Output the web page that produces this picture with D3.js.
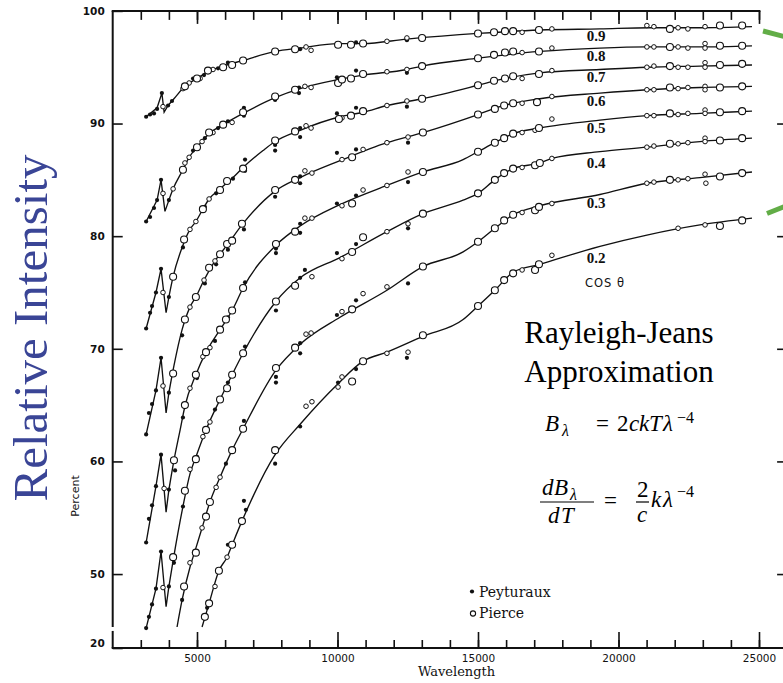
<!DOCTYPE html>
<html>
<head>
<meta charset="utf-8">
<script src="https://cdn.jsdelivr.net/npm/d3@7"></script>
<style>
  html, body { margin: 0; padding: 0; background: #fff; }
  svg { display: block; }
</style>
</head>
<body>
<svg id="chart" width="783" height="683"></svg>
<script>
// ---------------- data ----------------
const cosTheta = ["0.9", "0.8", "0.7", "0.6", "0.5", "0.4", "0.3", "0.2"];
const wavelengthTicks = [3000, 4000, 5000, 6000, 7000, 8000, 9000, 10000, 11000, 12000, 13000,
  14000, 15000, 16000, 17000, 18000, 19000, 20000, 21000, 22000, 23000, 24000, 25000];
const wavelengthLabels = [5000, 10000, 15000, 20000, 25000];
const percentTicks = [100, 90, 80, 70, 60, 50, 20];
const rightTicks = [90, 80, 70, 60, 50];

// smoothed curves [wavelength (Å), percent]
const fit09 = [[3190,90.6],[3580,91.4],[3750,92.7],[3830,91.0],[3970,91.6],[4180,92.2],[4570,93.3],[5000,94.0],[5390,94.6],[5930,95.1],[6640,95.6],[7780,96.4],[8670,96.7],[10020,97.1],[10910,97.1],[12470,97.5],[15000,98.0],[17200,98.3],[19340,98.4],[21120,98.5],[22900,98.5],[24750,98.6]];
const fit08 = [[3190,81.3],[3580,83.2],[3720,85.0],[3860,82.2],[4000,83.2],[4150,84.2],[4500,85.9],[4720,87.0],[5000,87.9],[5430,89.1],[5930,89.9],[6640,90.9],[7780,92.3],[8670,93.1],[10020,93.9],[10910,94.3],[12470,94.8],[13010,95.1],[15000,95.8],[17200,96.4],[19340,96.7],[21010,96.8],[22900,96.8],[24750,96.9]];
const fit07 = [[3190,71.8],[3540,75.0],[3720,77.1],[3900,73.2],[4000,74.6],[4150,76.4],[4500,79.2],[4750,80.6],[4960,81.3],[5210,82.4],[5430,83.3],[5820,84.2],[6280,85.2],[6640,86.1],[7350,87.6],[7780,88.4],[8670,89.4],[10090,90.6],[10910,91.0],[11760,91.6],[13010,92.2],[15000,93.4],[15780,93.9],[17200,94.5],[19340,94.8],[21010,95.0],[22900,95.1],[24750,95.2]];
const fit06 = [[3190,62.4],[3540,66.3],[3720,69.2],[3900,64.3],[4000,66.1],[4180,68.5],[4470,71.7],[4750,73.7],[4960,74.6],[5250,76.1],[5640,77.8],[6070,79.2],[6600,81.0],[7780,84.0],[8670,85.2],[10090,86.7],[11760,88.3],[13040,89.2],[15000,90.8],[15780,91.5],[17200,92.2],[19340,92.7],[21010,93.0],[22900,93.2],[24750,93.3]];
const fit05 = [[3190,52.8],[3540,57.8],[3720,60.6],[3900,55.5],[4000,57.5],[4180,60.1],[4400,62.8],[4570,64.9],[4960,67.7],[5320,69.7],[5820,71.7],[6250,73.4],[6640,75.4],[7810,79.2],[8670,80.9],[10090,82.8],[11760,84.5],[13040,85.7],[14470,86.8],[15000,87.5],[15600,88.3],[16250,89.1],[17200,89.6],[19340,90.3],[21010,90.7],[22900,90.9],[24750,91.1]];
const fit04 = [[3190,45.2],[3540,48.7],[3720,52.0],[3900,47.1],[4000,48.9],[4150,51.2],[4500,56.0],[4750,58.9],[4960,60.4],[5320,62.8],[5820,65.5],[6250,67.7],[6640,69.6],[7810,74.2],[8670,76.3],[10090,78.1],[11760,80.4],[13040,82.0],[14470,83.2],[15000,83.8],[15600,85.0],[16250,86.0],[17200,86.5],[17630,86.9],[19340,87.5],[21010,87.9],[22900,88.4],[24750,88.7]];
const fit03 = [[4290,45.3],[4470,47.7],[4750,50.6],[4960,52.3],[5180,54.1],[5460,56.4],[5820,58.6],[6250,61.0],[6640,62.9],[7810,68.1],[8670,70.4],[10090,72.8],[11760,75.2],[13040,77.3],[14470,78.6],[15000,79.5],[15600,80.7],[16250,81.9],[17200,82.7],[19340,83.7],[21010,84.7],[22900,85.2],[24750,85.7]];
const fit02 = [[5180,45.3],[5430,47.4],[5780,50.3],[6070,51.5],[6250,52.6],[6600,54.7],[7780,60.6],[8670,63.3],[10020,66.9],[10910,68.9],[11760,69.7],[13040,71.1],[14470,72.6],[15000,73.8],[15600,75.2],[16250,76.8],[17200,77.5],[19340,79.1],[21010,80.1],[22900,81.0],[24750,81.6]];

// Peyturaux observations
const pey09 = [[3190,90.6],[3330,90.8],[3470,90.9],[3580,91.3],[3750,92.7],[3970,91.6],[4110,92.0],[4860,94.0],[5250,94.3],[5750,94.9],[6100,95.4],[6670,95.7],[7780,96.4],[8670,96.6],[9980,97.1],[10660,97.2],[12470,97.4]];
const pey08 = [[3190,81.3],[3330,81.7],[3470,82.5],[3580,83.2],[3720,85.0],[4000,83.2],[4860,87.6],[5280,88.7],[5750,89.6],[6100,90.2],[6670,91.4],[6670,90.7],[7780,92.1],[8630,93.2],[8630,92.7],[9980,94.1],[10660,94.7],[12470,94.5]];
const pey07 = [[3190,71.8],[3330,73.2],[3400,73.8],[3540,75.0],[3720,77.1],[4000,74.6],[4500,79.0],[5280,82.6],[5680,83.8],[6280,85.1],[6710,86.8],[6710,85.8],[7780,88.1],[7780,87.6],[8670,89.6],[8670,88.8],[9980,90.9],[10660,91.4],[12470,91.5]];
const pey06 = [[3190,62.4],[3290,64.3],[3400,65.1],[3540,66.3],[3720,69.2],[4000,66.1],[4470,71.2],[5280,75.8],[5680,77.5],[6100,78.8],[6670,80.6],[7780,83.5],[8670,85.3],[8670,84.7],[9980,87.4],[10660,87.7],[12510,88.3]];
const pey05 = [[3190,52.8],[3290,54.9],[3400,56.1],[3540,57.8],[3720,60.6],[4000,57.5],[4220,59.2],[4500,63.9],[5000,67.4],[5640,70.7],[6100,72.8],[6710,75.9],[7810,78.9],[7810,78.5],[8670,81.1],[8670,80.3],[9980,82.9],[10660,83.6],[12510,84.8]];
const pey04 = [[3190,45.2],[3290,46.2],[3400,47.3],[3540,48.7],[3720,52.0],[4000,48.9],[4180,51.0],[4500,56.0],[5000,60.4],[5640,64.6],[6100,67.0],[6710,70.2],[7810,73.4],[8670,76.3],[8840,77.0],[9980,78.5],[10660,79.3],[12510,80.7]];
const pey03 = [[4470,47.7],[4890,51.9],[6030,59.8],[6670,63.6],[7810,67.5],[7810,67.0],[8670,69.6],[8670,70.5],[9980,73.0],[10660,74.3],[12510,75.8]];
const pey02 = [[5360,47.0],[6100,52.6],[6670,56.5],[6740,55.7],[7780,59.8],[8670,63.1],[10020,67.0],[10660,68.2],[12470,69.2]];

// Pierce observations, first set
const pie09 = [[3790,91.5],[4500,93.1],[4720,93.6],[5110,94.0],[5570,94.8],[8880,96.8],[9060,96.5],[11760,97.3],[12470,97.6],[16570,98.1],[17630,98.4],[21010,98.7],[21260,98.6],[22120,98.5],[22470,98.4],[23080,98.6]];
const pie08 = [[3790,83.8],[4150,84.2],[4570,86.5],[4720,87.0],[5180,88.4],[5570,89.2],[6250,90.1],[8840,93.3],[9060,93.2],[11760,94.6],[12470,94.8],[16570,96.3],[17630,96.7],[21010,96.8],[21260,96.8],[22120,96.8],[22470,96.7],[23080,97.1],[23080,96.7]];
const pie07 = [[3790,75.0],[4750,80.6],[4960,81.3],[5430,83.3],[8880,89.8],[9060,89.6],[10160,90.5],[11760,91.6],[12470,92.0],[16570,94.0],[17630,94.7],[21010,95.0],[21260,95.1],[22120,95.0],[22470,95.0],[23080,95.4],[23080,95.0]];
const pie06 = [[3790,66.7],[4750,73.7],[5250,76.1],[5640,77.8],[8840,85.8],[9090,85.6],[10160,86.8],[10910,87.7],[11760,88.3],[12510,88.8],[16570,91.8],[17630,92.4],[21010,93.0],[21260,93.0],[22120,93.1],[22470,93.2],[23080,93.3],[23080,93.0]];
const pie05 = [[3830,57.6],[4750,66.5],[5210,69.3],[5460,70.1],[8840,81.6],[9090,81.6],[10160,82.7],[10910,84.1],[11760,84.5],[12510,85.7],[16570,89.2],[17030,89.4],[17630,90.4],[21010,90.7],[21260,90.7],[22120,90.8],[22470,90.9],[23080,91.2],[23080,90.9]];
const pie04 = [[3790,48.8],[4750,59.3],[5210,62.2],[5460,63.5],[9090,76.4],[10160,78.0],[11760,80.4],[12510,81.1],[16570,86.1],[17630,86.9],[21010,87.9],[21260,88.0],[22120,88.2],[22470,88.3],[23080,88.7],[23080,88.4]];
const pie03 = [[4750,51.0],[5180,54.1],[5680,57.7],[5820,58.6],[8880,71.3],[9060,71.4],[10160,73.3],[10910,74.9],[11760,75.5],[16570,82.1],[17630,82.9],[21010,84.7],[21260,84.8],[22120,85.0],[22470,85.1],[23080,85.5],[23110,84.7]];
const pie02 = [[5640,48.9],[6070,51.5],[8880,64.9],[9090,65.3],[10020,66.6],[10160,67.5],[11760,69.6],[12510,69.7],[16570,77.0],[17630,78.3],[22120,80.7],[23080,81.0]];

// Pierce observations, second set
const pieL09 = [[4570,93.3],[5000,94.0],[5390,94.7],[5930,95.0],[6250,95.2],[6640,95.6],[7780,96.4],[8490,96.6],[10020,97.0],[10480,97.0],[10910,97.1],[13010,97.6],[15000,98.0],[15570,98.1],[15960,98.2],[16250,98.2],[17170,98.3],[21830,98.4],[23610,98.7],[24400,98.7]];
const pieL08 = [[4500,85.9],[5000,87.9],[5430,89.2],[5930,89.9],[6640,91.0],[7780,92.4],[8490,93.0],[10020,93.6],[10160,93.9],[10480,94.0],[10910,94.4],[13010,95.1],[15000,95.8],[15570,96.1],[15960,96.3],[16250,96.4],[17170,96.4],[21830,96.8],[23610,96.9],[24400,96.9]];
const pieL07 = [[4150,76.4],[4540,79.7],[5210,82.4],[5820,84.1],[6070,84.9],[6640,86.0],[7780,88.5],[8490,89.3],[10050,90.4],[10480,90.7],[10910,91.1],[13010,92.2],[15000,93.4],[15570,93.8],[15960,94.0],[16250,94.2],[17170,94.4],[21830,95.1],[23610,95.2],[24400,95.3]];
const pieL06 = [[4150,67.8],[4570,72.6],[4960,74.6],[5430,77.2],[5820,78.4],[6070,79.3],[6250,79.6],[6600,81.1],[7780,84.1],[8490,85.0],[10520,87.0],[13040,89.2],[15000,90.8],[15600,91.3],[15930,91.6],[16250,91.8],[17100,91.9],[21830,93.2],[23610,93.2],[24400,93.3]];
const pieL05 = [[4180,60.1],[4570,65.0],[4960,67.7],[5320,69.7],[5820,71.7],[6030,72.6],[6250,73.4],[6640,75.4],[7810,79.3],[8490,80.4],[10520,82.9],[13040,85.7],[15000,87.5],[15600,88.3],[15930,88.7],[16250,89.1],[17170,89.6],[21830,90.9],[23610,91.0],[24400,91.1]];
const pieL04 = [[4150,51.5],[4570,57.4],[4960,60.2],[5320,62.8],[5820,65.5],[6070,66.5],[6250,67.7],[6640,69.6],[7810,74.2],[8490,75.6],[10520,78.6],[10910,79.9],[13040,82.0],[15000,83.8],[15600,85.0],[15930,85.6],[16250,86.0],[17030,86.3],[17200,86.5],[21830,88.2],[23610,88.5],[24400,88.7]];
const pieL03 = [[4540,48.9],[4960,51.9],[5320,55.1],[5460,56.4],[6250,61.0],[6640,62.9],[7810,68.3],[8490,70.1],[10520,73.5],[13040,77.3],[15000,79.5],[15600,80.7],[15930,81.4],[16250,81.9],[17030,82.3],[17170,82.6],[21830,85.0],[23610,85.3],[24400,85.6]];
const pieL02 = [[5280,46.2],[5430,47.4],[5780,50.3],[6250,52.6],[6600,54.7],[7780,61.0],[10520,67.1],[10910,68.9],[13040,71.2],[15000,73.8],[15600,75.2],[15930,76.1],[16250,76.7],[17030,77.0],[17170,77.5],[23610,80.9],[24400,81.4]];

const fits = [fit09, fit08, fit07, fit06, fit05, fit04, fit03, fit02];
const peys = [pey09, pey08, pey07, pey06, pey05, pey04, pey03, pey02];
const pies = [pie09, pie08, pie07, pie06, pie05, pie04, pie03, pie02];
const pieLs = [pieL09, pieL08, pieL07, pieL06, pieL05, pieL04, pieL03, pieL02];

// ---------------- drawing ----------------
const W = 783, H = 683;
const ink = "#111";
const svg = d3.select("#chart");
svg.append("rect").attr("width", W).attr("height", H).attr("fill", "#fff");

const x = d3.scaleLinear().domain([2000, 26000]).range([112.7, 787.1]);
// broken percent axis: 20 sits at the base line, the drawn range starts near 45
const y = d3.scaleLinear().domain([20, 44.9, 100]).range([648, 631.5, 10.9]);

// frame
const frame = svg.append("g").attr("stroke", ink).attr("stroke-width", 2).attr("fill", "none");
frame.append("line").attr("x1", x(2000) - 1).attr("x2", x(25050)).attr("y1", y(100)).attr("y2", y(100));
frame.append("line").attr("x1", x(2000) - 1).attr("x2", W).attr("y1", y(20)).attr("y2", y(20));
frame.append("line").attr("x1", x(2000)).attr("x2", x(2000)).attr("y1", y(100)).attr("y2", y(45.3));
frame.append("line").attr("x1", x(2000)).attr("x2", x(2000)).attr("y1", y(44.95)).attr("y2", y(20));

function tidy(g) {
  g.select(".domain").remove();
  g.selectAll(".tick line").attr("stroke", ink).attr("stroke-width", 1.6);
}

// top ticks
svg.append("g").attr("transform", `translate(0,${y(100)})`)
  .call(d3.axisTop(x).tickValues(wavelengthTicks).tickSizeInner(-9).tickSizeOuter(0).tickFormat(""))
  .call(tidy);
svg.append("g").attr("transform", `translate(0,${y(100)})`)
  .call(d3.axisTop(x).tickValues(wavelengthLabels).tickSizeInner(-13).tickSizeOuter(0).tickFormat(""))
  .call(tidy);

// bottom ticks and labels
svg.append("g").attr("transform", `translate(0,${y(20)})`)
  .call(d3.axisBottom(x).tickValues(wavelengthTicks).tickSizeInner(-8).tickSizeOuter(0).tickFormat(""))
  .call(tidy);
svg.append("g").attr("transform", `translate(0,${y(20)})`)
  .call(d3.axisBottom(x).tickValues(wavelengthLabels).tickSizeInner(-16).tickSizeOuter(0)
    .tickPadding(6.5).tickFormat(d3.format("d")))
  .call(tidy)
  .attr("font-family", "DejaVu Sans").attr("font-size", 10.5)
  .selectAll("text").attr("fill", ink);

// left ticks and labels
const yAxis = svg.append("g").attr("transform", `translate(${x(2000)},0)`)
  .call(d3.axisLeft(y).tickValues(percentTicks).tickSizeInner(-10).tickSizeOuter(0).tickPadding(8))
  .call(tidy)
  .attr("font-family", "DejaVu Sans").attr("font-size", 10.5).attr("font-weight", "bold");
yAxis.selectAll("text").attr("fill", ink);
yAxis.selectAll(".tick").filter(d => d === 20).select("text").attr("dy", "-0.1em");

// right-hand ticks
svg.append("g").attr("transform", `translate(${x(26000)},0)`)
  .call(d3.axisRight(y).tickValues(rightTicks).tickSizeInner(-10).tickSizeOuter(0).tickFormat(""))
  .call(tidy);

// curves: the short-wave zig-zag is drawn with straight strokes, the rest smoothed
const smooth = d3.line().x(d => x(d[0])).y(d => y(d[1])).curve(d3.curveMonotoneX);
const straight = d3.line().x(d => x(d[0])).y(d => y(d[1]));
function curvePath(fit) {
  const dip = fit.findIndex((d, i) => i > 0 && d[1] < fit[i - 1][1]);
  if (dip < 0) return smooth(fit);
  return straight(fit.slice(0, dip + 2)) + smooth(fit.slice(dip + 1)).replace(/^M/, "L");
}

const series = cosTheta.map((c, i) => ({ c, fit: fits[i], pey: peys[i], pie: pies[i], pieL: pieLs[i] }));

const plot = svg.append("g");
plot.selectAll("path.curve").data(series).join("path")
  .attr("class", "curve")
  .attr("d", d => curvePath(d.fit))
  .attr("fill", "none").attr("stroke", ink).attr("stroke-width", 1.35)
  .attr("stroke-linejoin", "miter");

const groups = plot.selectAll("g.obs").data(series).join("g").attr("class", "obs");
groups.selectAll("circle.pey").data(d => d.pey).join("circle")
  .attr("class", "pey")
  .attr("cx", d => x(d[0])).attr("cy", d => y(d[1])).attr("r", 2.1)
  .attr("fill", ink);
groups.selectAll("circle.pie").data(d => d.pie).join("circle")
  .attr("class", "pie")
  .attr("cx", d => x(d[0])).attr("cy", d => y(d[1])).attr("r", 2.3)
  .attr("fill", "#fff").attr("stroke", ink).attr("stroke-width", 1);
groups.selectAll("circle.pieL").data(d => d.pieL).join("circle")
  .attr("class", "pieL")
  .attr("cx", d => x(d[0])).attr("cy", d => y(d[1])).attr("r", 3.5)
  .attr("fill", "#fff").attr("stroke", ink).attr("stroke-width", 1.1);

// cos θ labels under each curve
function valueAt(fit, lam) {
  const i = d3.bisector(d => d[0]).left(fit, lam);
  if (i <= 0) return fit[0][1];
  if (i >= fit.length) return fit[fit.length - 1][1];
  const a = fit[i - 1], b = fit[i];
  return a[1] + (b[1] - a[1]) * (lam - a[0]) / (b[0] - a[0]);
}
const labelAt = 19200;
plot.selectAll("text.cos").data(series).join("text")
  .attr("class", "cos")
  .attr("x", x(labelAt))
  .attr("y", d => y(valueAt(d.fit, labelAt)) + (d.c === "0.4" || d.c === "0.2" ? 16 : 12.5))
  .attr("text-anchor", "middle")
  .attr("font-family", "Liberation Serif").attr("font-weight", "bold").attr("font-size", 15)
  .attr("fill", ink)
  .text(d => d.c);

svg.append("text").attr("x", 585).attr("y", 287)
  .attr("font-family", "DejaVu Sans").attr("font-size", 11.5).attr("letter-spacing", 1)
  .attr("fill", ink).text("COS θ");

// axis titles
svg.append("text").attr("transform", "translate(79,496) rotate(-90)")
  .attr("text-anchor", "middle").attr("font-family", "DejaVu Sans").attr("font-size", 11)
  .attr("fill", ink).text("Percent");
svg.append("text").attr("x", 418).attr("y", 676)
  .attr("font-family", "DejaVu Serif").attr("font-size", 13).attr("fill", ink).text("Wavelength");
svg.append("text").attr("transform", "translate(47,328) rotate(-90)")
  .attr("text-anchor", "middle").attr("font-family", "Liberation Serif").attr("font-size", 49)
  .attr("fill", "#3a4596").text("Relative Intensity");

// legend
svg.append("circle").attr("cx", 472).attr("cy", 591.5).attr("r", 2.1).attr("fill", ink);
svg.append("text").attr("x", 479).attr("y", 596.5).attr("font-family", "DejaVu Serif").attr("font-size", 14)
  .attr("fill", ink).text("Peyturaux");
svg.append("circle").attr("cx", 473).attr("cy", 613.5).attr("r", 2.6).attr("fill", "#fff")
  .attr("stroke", ink).attr("stroke-width", 1.1);
svg.append("text").attr("x", 479).attr("y", 618).attr("font-family", "DejaVu Serif").attr("font-size", 14)
  .attr("fill", ink).text("Pierce");

// Rayleigh-Jeans annotation
const note = svg.append("g").attr("font-family", "Liberation Serif").attr("fill", "#000");
note.append("text").attr("x", 619).attr("y", 343).attr("text-anchor", "middle").attr("font-size", 31)
  .text("Rayleigh-Jeans");
note.append("text").attr("x", 619).attr("y", 382).attr("text-anchor", "middle").attr("font-size", 31)
  .text("Approximation");

function piece(x0, y0, str, size, italic) {
  note.append("text").attr("x", x0).attr("y", y0).attr("font-size", size)
    .attr("font-style", italic ? "italic" : "normal").text(str);
}
// B_λ = 2ckTλ^-4
piece(545, 431, "B", 23, true);
piece(562, 436, "λ", 16, true);
piece(596, 431, "=", 23, false);
piece(617, 431, "2", 23, false);
piece(629, 431, "c", 23, true);
piece(639, 431, "k", 23, true);
piece(649, 431, "T", 23, true);
piece(663, 431, "λ", 23, true);
piece(677, 423, "−4", 16, false);
// dB_λ/dT = (2/c) kλ^-4
piece(542, 495, "d", 23, true);
piece(554, 495, "B", 23, true);
piece(570, 500, "λ", 16, true);
note.append("line").attr("x1", 540).attr("x2", 594).attr("y1", 502).attr("y2", 502)
  .attr("stroke", "#000").attr("stroke-width", 1.2);
piece(548, 523, "d", 23, true);
piece(561, 523, "T", 23, true);
piece(604, 508, "=", 23, false);
piece(637, 497, "2", 23, false);
note.append("line").attr("x1", 636).attr("x2", 649).attr("y1", 502).attr("y2", 502)
  .attr("stroke", "#000").attr("stroke-width", 1.2);
piece(637, 522, "c", 23, true);
piece(651, 507, "k", 23, true);
piece(663, 507, "λ", 23, true);
piece(677, 497, "−4", 16, false);

// green marker strokes at the right edge
const green = svg.append("g").attr("stroke", "#62ad47").attr("stroke-width", 5);
green.append("line").attr("x1", 763).attr("y1", 31).attr("x2", 786).attr("y2", 37);
green.append("line").attr("x1", 767).attr("y1", 213.5).attr("x2", 786).attr("y2", 206);
</script>
</body>
</html>
